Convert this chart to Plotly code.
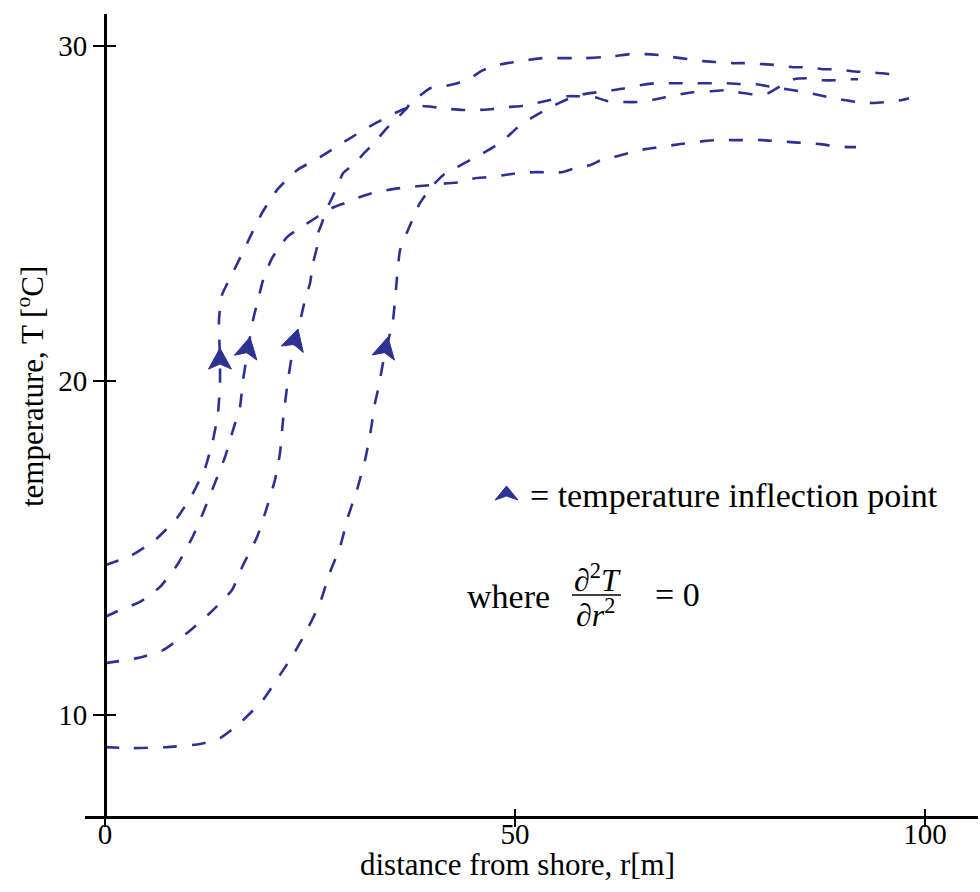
import math
import plotly.graph_objects as go

# ---- data (distance from shore r [m], temperature T [degC]) ----
r_a = [0, 3.29, 6.10, 8.78, 10.61, 12.20, 13.17, 13.78, 14.02, 14.02, 13.90, 14.27, 15.24, 16.46, 17.68,
       19.15, 20.98, 23.41, 26.22, 29.51, 32.56, 35.37, 36.83, 38.41, 40.0, 42.07, 43.66, 45.49, 47.32, 49.15,
       50.85, 52.68, 54.27, 56.34, 57.68, 59.76, 61.22, 63.17, 64.88, 66.71, 68.29, 70.12, 71.71, 73.78, 75.49,
       77.20, 79.02, 80.85, 82.32, 84.02, 85.61, 87.56, 89.27, 91.10, 91.83]
t_a = [14.48, 14.78, 15.23, 15.89, 16.58, 17.38, 18.22, 19.03, 19.87, 20.61, 21.81, 22.56, 23.06, 23.66, 24.29,
       25.01, 25.70, 26.29, 26.68, 27.19, 27.64, 28.00, 28.15, 28.21, 28.18, 28.12, 28.09, 28.09, 28.12, 28.18,
       28.21, 28.30, 28.39, 28.50, 28.50, 28.47, 28.36, 28.33, 28.33, 28.39, 28.47, 28.56, 28.62, 28.65, 28.68,
       28.62, 28.56, 28.59, 28.80, 29.01, 29.04, 28.98, 28.98, 29.01, 29.01]

r_b = [0, 1.83, 4.27, 6.71, 8.78, 10.61, 11.95, 13.41, 14.63, 15.61, 16.46, 16.83, 17.32, 18.05, 18.66,
       19.27, 20.37, 22.20, 23.78, 25.85, 26.83, 27.68, 29.27, 31.10, 32.68, 34.51, 36.22, 38.05, 39.63, 41.71,
       43.29, 45.12, 46.71, 48.54, 50.24, 52.20, 53.90, 55.73, 57.32, 59.15, 60.73, 62.44, 64.27, 65.85, 67.68,
       69.27, 71.10, 72.93, 74.76, 76.59, 78.29, 80.12, 81.95, 83.66, 85.37, 87.20, 88.90, 90.73, 91.59]
t_b = [12.93, 13.14, 13.38, 13.83, 14.48, 15.29, 16.04, 16.94, 17.71, 18.52, 19.21, 20.01, 20.76, 21.81, 22.41,
       23.00, 23.66, 24.29, 24.56, 24.89, 25.04, 25.16, 25.31, 25.49, 25.61, 25.70, 25.76, 25.81, 25.84, 25.90,
       25.93, 26.05, 26.08, 26.14, 26.20, 26.23, 26.23, 26.23, 26.35, 26.44, 26.62, 26.71, 26.83, 26.92, 26.98,
       27.04, 27.10, 27.16, 27.19, 27.19, 27.19, 27.19, 27.16, 27.13, 27.10, 27.07, 27.01, 26.98, 26.98]

r_c = [0, 3.90, 7.07, 10.0, 12.80, 15.49, 16.83, 18.54, 19.76, 20.73, 21.34, 21.71, 22.20, 22.80, 24.02,
       24.39, 25.0, 25.37, 25.85, 25.98, 26.46, 26.83, 27.68, 28.29, 29.02, 30.49, 31.71, 32.93, 34.15, 35.37,
       36.83, 37.20, 38.05, 39.63, 40.85, 42.93, 44.51, 46.10, 47.80, 49.76, 51.46, 53.29, 55.12, 56.95, 58.54,
       60.61, 62.20, 64.02, 65.85, 67.68, 69.27, 71.10, 72.93, 74.76, 76.59, 78.41, 80.24, 82.07, 83.90, 85.61,
       87.56, 89.27, 91.10, 92.93, 94.76, 96.59, 97.32]
t_c = [11.55, 11.70, 11.94, 12.45, 13.05, 13.74, 14.48, 15.32, 16.22, 17.03, 17.83, 18.82, 19.81, 20.76, 22.02,
       22.41, 22.91, 23.51, 23.99, 24.41, 24.71, 25.01, 25.46, 25.78, 26.20, 26.50, 26.83, 27.13, 27.49, 27.79,
       28.15, 28.30, 28.45, 28.74, 28.77, 28.89, 29.04, 29.28, 29.43, 29.52, 29.58, 29.64, 29.64, 29.64, 29.64,
       29.67, 29.70, 29.76, 29.76, 29.73, 29.67, 29.61, 29.55, 29.52, 29.49, 29.49, 29.46, 29.43, 29.37, 29.37,
       29.31, 29.31, 29.25, 29.22, 29.19, 29.13, 29.10]

r_d = [0, 3.41, 7.56, 11.59, 14.02, 16.46, 19.27, 21.34, 22.93, 24.63, 26.22, 27.44, 28.66, 29.63, 30.73,
       31.71, 32.32, 32.93, 33.29, 34.02, 35.12, 35.61, 35.98, 36.95, 38.41, 40.0, 41.22, 42.93, 44.51, 46.10,
       47.56, 49.02, 50.24, 51.83, 53.29, 54.88, 56.46, 58.29, 60.0, 61.83, 63.41, 65.24, 67.07, 68.90, 70.49,
       72.32, 74.15, 75.98, 77.80, 79.51, 81.34, 83.17, 84.76, 86.59, 88.29, 90.12, 91.71, 93.66, 95.37, 97.20,
       98.05]
t_d = [9.04, 9.01, 9.04, 9.13, 9.31, 9.76, 10.45, 11.20, 11.79, 12.54, 13.35, 14.27, 15.02, 15.92, 16.73,
       17.62, 18.37, 19.33, 19.72, 20.67, 21.81, 23.09, 23.90, 24.50, 25.31, 25.84, 26.14, 26.38, 26.59, 26.80,
       27.01, 27.28, 27.55, 27.82, 28.03, 28.24, 28.42, 28.56, 28.62, 28.68, 28.74, 28.83, 28.89, 28.89, 28.89,
       28.89, 28.89, 28.89, 28.86, 28.86, 28.77, 28.71, 28.65, 28.56, 28.47, 28.39, 28.33, 28.30, 28.33, 28.39,
       28.44]

# inflection points (arrow tips) and local heading of each arrow (deg, clockwise from up)
infl_r = [14.02, 17.68, 23.54, 34.51]
infl_t = [20.97, 21.30, 21.54, 21.30]
infl_heading = [0, 12, 16, 13]

x_ticks = [0, 50, 100]
y_ticks = [10, 20, 30]

# ---- style ----
BLUE = "#2e3192"
FONT = "Liberation Serif, Times New Roman, serif"
XR = [-2.439, 106.46]
YR = [6.98, 30.96]
L, R, T, B = 85, 2, 14, 76
PW, PH = 980 - L - R, 892 - T - B


def xp(px):
    return (px - L) / PW


def yp(py):
    return (892 - B - py) / PH


def arrow_path(heading_deg, half_w=11.5, length=21.0, notch=16.0):
    """Notched arrowhead, tip at (0,0), in pixel offsets (y up), rotated clockwise."""
    a = math.radians(heading_deg)
    pts = [(0, 0), (half_w, -length), (0, -notch), (-half_w, -length)]
    rot = [(x * math.cos(a) + y * math.sin(a), -x * math.sin(a) + y * math.cos(a)) for x, y in pts]
    return "M" + " L".join(f"{x:.2f},{y:.2f}" for x, y in rot) + " Z"


fig = go.Figure()
for r, t in [(r_a, t_a), (r_b, t_b), (r_c, t_c), (r_d, t_d)]:
    fig.add_trace(go.Scatter(
        x=r, y=t, mode="lines", showlegend=False, hoverinfo="skip",
        line=dict(color=BLUE, width=2.6, dash="14px,15px", shape="spline", smoothing=0.5)))

# invisible trace on secondary axes so the cross-tick axes are drawn
fig.add_trace(go.Scatter(x=[None], y=[None], xaxis="x2", yaxis="y2", showlegend=False, hoverinfo="skip"))

shapes = []
for r, t, h in zip(infl_r, infl_t, infl_heading):
    shapes.append(dict(type="path", xref="x", yref="y", xsizemode="pixel", ysizemode="pixel",
                       xanchor=r, yanchor=t, path=arrow_path(h), fillcolor=BLUE,
                       line=dict(color=BLUE, width=1), layer="above"))
# legend arrow
shapes.append(dict(type="path", xref="paper", yref="paper", xsizemode="pixel", ysizemode="pixel",
                   xanchor=xp(506.5), yanchor=yp(486), path=arrow_path(0, 11.5, 14.0, 10.0),
                   fillcolor=BLUE, line=dict(color=BLUE, width=1), layer="above"))
# fraction bar
shapes.append(dict(type="line", xref="paper", yref="paper", x0=xp(572), x1=xp(621), y0=yp(595), y1=yp(595),
                   line=dict(color="black", width=1.5)))

tf = dict(family=FONT, size=34, color="black")
mf = dict(family=FONT, size=32, color="black")
annotations = [
    dict(x=xp(528), y=yp(495), xref="paper", yref="paper", xanchor="left", yanchor="middle",
         text="= temperature inflection point", showarrow=False, font=tf),
    dict(x=xp(465), y=yp(596), xref="paper", yref="paper", xanchor="left", yanchor="middle",
         text="where", showarrow=False, font=tf),
    dict(x=xp(597), y=yp(578), xref="paper", yref="paper", xanchor="center", yanchor="middle",
         text="∂<sup>2</sup><i>T</i>", showarrow=False, font=mf),
    dict(x=xp(595), y=yp(613), xref="paper", yref="paper", xanchor="center", yanchor="middle",
         text="∂<i>r</i><sup>2</sup>", showarrow=False, font=mf),
    dict(x=xp(677), y=yp(594), xref="paper", yref="paper", xanchor="center", yanchor="middle",
         text="= 0", showarrow=False, font=tf),
    # axis titles
    dict(x=xp(517), y=yp(864), xref="paper", yref="paper", xanchor="center", yanchor="middle",
         text="distance from shore, r[m]", showarrow=False, font=dict(family=FONT, size=31, color="black")),
    dict(x=xp(31), y=yp(387), xref="paper", yref="paper", xanchor="center", yanchor="middle",
         text="temperature, T [<sup>o</sup>C]", textangle=-90, showarrow=False,
         font=dict(family=FONT, size=31, color="black")),
]

tickfont = dict(family=FONT, size=29, color="black")
ypos = (0 - XR[0]) / (XR[1] - XR[0])

fig.update_layout(
    width=980, height=892,
    margin=dict(l=L, r=R, t=T, b=B, pad=0),
    paper_bgcolor="white", plot_bgcolor="white",
    showlegend=False,
    xaxis=dict(range=XR, tickvals=x_ticks, ticks="outside", ticklen=8, tickwidth=2, tickcolor="black",
               showline=True, linecolor="black", linewidth=2.5, showgrid=False, zeroline=False,
               tickfont=tickfont, ticklabelstandoff=-18),
    xaxis2=dict(range=XR, overlaying="x", anchor="y", side="bottom", tickvals=x_ticks, ticks="inside",
                ticklen=7, tickwidth=2, tickcolor="black", showticklabels=False, showgrid=False,
                zeroline=False, showline=False),
    yaxis=dict(range=YR, anchor="free", position=ypos, tickvals=y_ticks, ticks="outside", ticklen=11,
               tickwidth=2, tickcolor="black", showline=True, linecolor="black", linewidth=3,
               showgrid=False, zeroline=False, tickfont=tickfont),
    yaxis2=dict(range=YR, overlaying="y", anchor="free", position=ypos, tickvals=y_ticks, ticks="inside",
                ticklen=10, tickwidth=2, tickcolor="black", showticklabels=False, showline=False,
                showgrid=False, zeroline=False),
    annotations=annotations,
    shapes=shapes,
)

fig.write_html("out.html")
